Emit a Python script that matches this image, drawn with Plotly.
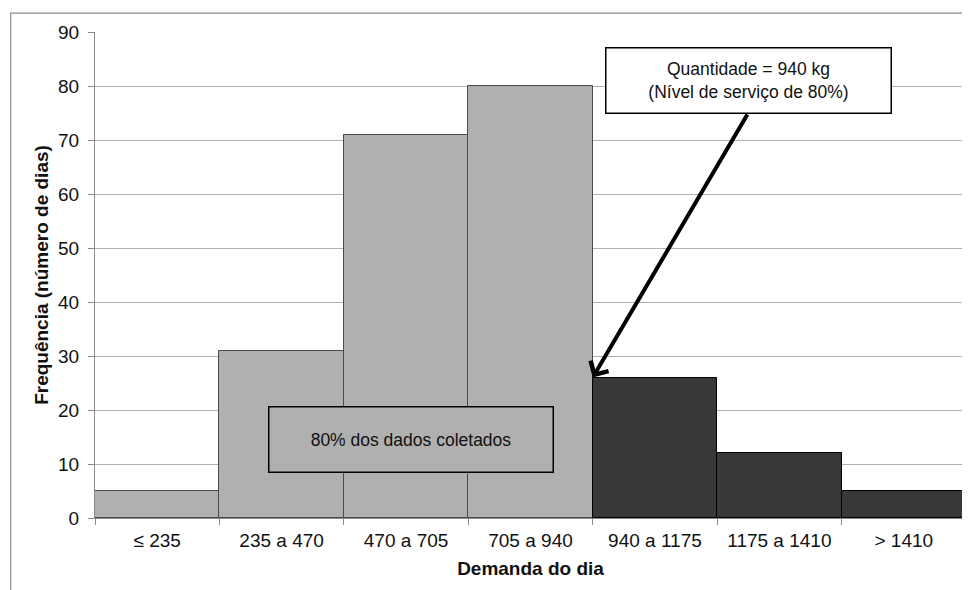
import plotly.graph_objects as go

categories = ["≤ 235", "235 a 470", "470 a 705", "705 a 940", "940 a 1175", "1175 a 1410", "> 1410"]
frequencia = [5, 31, 71, 80, 26, 12, 5]
dentro_80 = [True, True, True, True, False, False, False]
y_ticks = [0, 10, 20, 30, 40, 50, 60, 70, 80, 90]

LIGHT = "#b0b0b0"
DARK = "#383838"
FONT = "Liberation Sans, Arial, sans-serif"

fill = [LIGHT if d else DARK for d in dentro_80]
edge = ["#4a4a4a" if d else "#000000" for d in dentro_80]

fig = go.Figure()
fig.add_trace(go.Bar(
    x=categories, y=frequencia,
    marker=dict(color=fill, line=dict(color=edge, width=1)),
    width=1.0, showlegend=False, hoverinfo="x+y",
))

# index of first bar beyond the 80% threshold
k = dentro_80.index(False)

# the page body has an 8px margin, so the figure is sized/offset to compensate
fig.update_layout(
    width=962, height=582,
    margin=dict(l=87.3, r=4, t=23.7, b=71.7, autoexpand=False),
    paper_bgcolor="white", plot_bgcolor="white",
    bargap=0,
    font=dict(family=FONT, color="#111111", size=19),
    xaxis=dict(
        type="category", range=[-0.5, len(categories) - 0.5],
        tickson="boundaries", ticks="outside", ticklen=6, tickcolor="#8a8a8a",
        showline=True, linecolor="#8a8a8a", linewidth=1,
        showgrid=False, tickfont=dict(size=19), ticklabelstandoff=5,
        title=dict(text="<b>Demanda do dia</b>", font=dict(size=19), standoff=11),
    ),
    yaxis=dict(
        range=[0, 90], tickvals=y_ticks, ticks="outside", ticklen=6, tickcolor="#8a8a8a",
        showline=True, linecolor="#8a8a8a", linewidth=1,
        showgrid=True, gridcolor="#b0b0b0", gridwidth=1,
        zeroline=False, tickfont=dict(size=19), ticklabelstandoff=5,
        title=dict(text="<b>Frequência (número de dias)</b>", font=dict(size=19), standoff=4),
    ),
)

# outer chart frame (partially cut off on right/bottom as in the reference)
fig.add_shape(type="rect", xref="paper", yref="paper",
              x0=-0.0968, y0=-0.3, x1=1.2, y1=1.039,
              line=dict(color="#8c8c8c", width=1.2), fillcolor="rgba(0,0,0,0)", layer="below")

# arrow pointing at the 940 boundary, top of first bar beyond threshold
fig.add_annotation(
    x=k - 0.5, y=frequencia[k], xref="x", yref="y",
    ax=k + 0.75, ay=75, axref="x", ayref="y",
    showarrow=True, arrowhead=4, arrowsize=1.0, arrowwidth=4, arrowcolor="#000000",
    text="", standoff=0,
)

# top annotation box
fig.add_annotation(
    x=(749 - 95.3) / 870.7, y=1 + (31.7 - 80) / 486.6, xref="paper", yref="paper",
    xanchor="center", yanchor="middle",
    text="Quantidade = 940 kg<br>(Nível de serviço de 80%)",
    showarrow=False, align="center",
    font=dict(size=17.5, color="#111111", family=FONT),
    bgcolor="white", bordercolor="#000000", borderwidth=1.5, borderpad=0,
    width=284, height=64,
)

# lower annotation box
fig.add_annotation(
    x=(410.8 - 95.3) / 870.7, y=1 + (31.7 - 440) / 486.6, xref="paper", yref="paper",
    xanchor="center", yanchor="middle",
    text="80% dos dados coletados",
    showarrow=False, align="center",
    font=dict(size=17.5, color="#111111", family=FONT),
    bgcolor=LIGHT, bordercolor="#000000", borderwidth=1.5, borderpad=0,
    width=283, height=64,
)

fig.write_html("out.html")
